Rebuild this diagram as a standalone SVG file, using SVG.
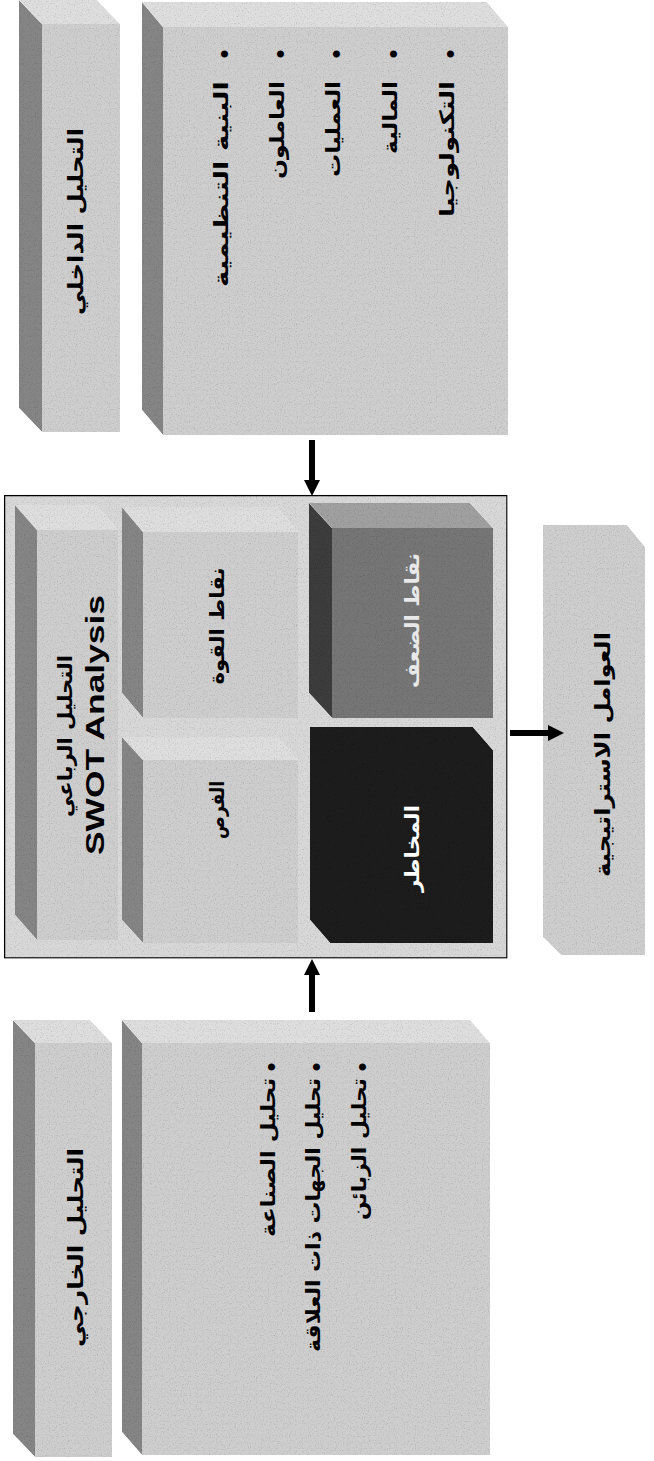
<svg xmlns="http://www.w3.org/2000/svg" width="654" height="1461" viewBox="0 0 654 1461">
<style>
.front{fill:#cecece}
.side{fill:#858585}
.top{fill:#dedede}
.ar{font-family:"DejaVu Sans",sans-serif;font-weight:bold;fill:#000}
.lat{font-family:"Liberation Sans",Arial,sans-serif;font-weight:bold;fill:#000}
.bul{font-family:"Liberation Sans",Arial,sans-serif;font-size:26px;fill:#000}
.conn{stroke:#000;stroke-width:6;fill:none}
</style>
<defs>
<filter id="grain" filterUnits="userSpaceOnUse" x="0" y="0" width="654" height="1461">
<feTurbulence type="fractalNoise" baseFrequency="0.85" numOctaves="2" seed="5" result="n"/>
<feColorMatrix in="n" type="saturate" values="0" result="g"/>
<feComponentTransfer in="g" result="g2">
<feFuncR type="linear" slope="0.9" intercept="0.55"/>
<feFuncG type="linear" slope="0.9" intercept="0.55"/>
<feFuncB type="linear" slope="0.9" intercept="0.55"/>
<feFuncA type="linear" slope="0" intercept="1"/>
</feComponentTransfer>
<feBlend in="SourceGraphic" in2="g2" mode="multiply" result="b"/>
<feComposite in="b" in2="SourceGraphic" operator="in"/>
</filter>
<marker id="ah" viewBox="0 0 16 16" refX="0" refY="8" markerWidth="16" markerHeight="17" markerUnits="userSpaceOnUse" orient="auto">
<path d="M0,0 L16,8 L0,16 z" fill="#000"/>
</marker>
</defs>
<rect width="654" height="1461" fill="#fff"/>

<g id="internal-header">
<g filter="url(#grain)">
<polygon class="side" points="42,24 19,0 19,408 42,432"/>
<polygon class="top" points="42,24 19,0 97,0 120,24"/>
<rect class="front" x="42" y="24" width="78" height="408"/>
</g>
<text class="ar" transform="translate(78,221.5) rotate(-90)" y="4.6" font-size="21" text-anchor="middle" textLength="187" lengthAdjust="spacingAndGlyphs">التحليل الداخلي</text>
</g>

<g id="internal-factors">
<g filter="url(#grain)">
<polygon class="side" points="163,27 142,2 142,410 163,435"/>
<polygon class="top" points="163,27 142,2 487,2 508,27"/>
<rect class="front" x="163" y="27" width="345" height="408"/>
</g>
<text class="bul" transform="translate(224,54) rotate(-90)" y="8.8" text-anchor="middle">•</text>
<text class="bul" transform="translate(280,54) rotate(-90)" y="8.8" text-anchor="middle">•</text>
<text class="bul" transform="translate(336,54) rotate(-90)" y="8.8" text-anchor="middle">•</text>
<text class="bul" transform="translate(393,54) rotate(-90)" y="8.8" text-anchor="middle">•</text>
<text class="bul" transform="translate(450,54) rotate(-90)" y="8.8" text-anchor="middle">•</text>
<text class="ar" transform="translate(224,184) rotate(-90)" y="4.4" font-size="20" text-anchor="middle" textLength="206" lengthAdjust="spacingAndGlyphs">البنية التنظيمية</text>
<text class="ar" transform="translate(280,130) rotate(-90)" y="4.4" font-size="20" text-anchor="middle" textLength="98" lengthAdjust="spacingAndGlyphs">العاملون</text>
<text class="ar" transform="translate(336,129) rotate(-90)" y="4.4" font-size="20" text-anchor="middle" textLength="96" lengthAdjust="spacingAndGlyphs">العمليات</text>
<text class="ar" transform="translate(393,117.5) rotate(-90)" y="4.4" font-size="20" text-anchor="middle" textLength="73" lengthAdjust="spacingAndGlyphs">المالية</text>
<text class="ar" transform="translate(450,149) rotate(-90)" y="4.4" font-size="20" text-anchor="middle" textLength="136" lengthAdjust="spacingAndGlyphs">التكنولوجيا</text>
</g>

<g id="swot-frame">
<rect x="4.5" y="495.5" width="502.5" height="462.5" fill="#d8d8d8" stroke="#000" stroke-width="1.5" filter="url(#grain)"/>
</g>

<g id="swot-title">
<g filter="url(#grain)">
<polygon class="side" points="37,530 15,505 15,915 37,940"/>
<polygon class="top" points="37,530 15,505 96,505 118,530"/>
<rect class="front" x="37" y="530" width="81" height="410"/>
</g>
<text class="ar" transform="translate(68,736) rotate(-90)" y="4.4" font-size="20" text-anchor="middle" textLength="162" lengthAdjust="spacingAndGlyphs">التحليل الرباعي</text>
<text class="lat" transform="translate(97,725) rotate(-90)" y="6.5" font-size="26" text-anchor="middle" textLength="260" lengthAdjust="spacingAndGlyphs">SWOT Analysis</text>
</g>

<g id="strengths">
<g filter="url(#grain)">
<polygon class="side" points="143,532 122,507 122,693 143,718"/>
<polygon class="top" points="143,532 122,507 277,507 298,532"/>
<rect class="front" x="143" y="532" width="155" height="186"/>
</g>
<text class="ar" transform="translate(220,626) rotate(-90)" y="4.4" font-size="20" text-anchor="middle" textLength="117" lengthAdjust="spacingAndGlyphs">نقاط القوة</text>
</g>

<g id="opportunities">
<g filter="url(#grain)">
<polygon class="side" points="143,760 122,737 122,920 143,943"/>
<polygon class="top" points="143,760 122,737 277,737 298,760"/>
<rect class="front" x="143" y="760" width="155" height="183"/>
</g>
<text class="ar" transform="translate(220,810) rotate(-90)" y="4.4" font-size="20" text-anchor="middle" textLength="58" lengthAdjust="spacingAndGlyphs">الفرص</text>
</g>

<g id="weaknesses">
<g filter="url(#grain)">
<polygon points="332,528 309,503 309,693 332,718" fill="#3c3c3c"/>
<polygon points="332,528 309,503 470,503 493,528" fill="#a0a0a0"/>
<rect x="332" y="528" width="161" height="190" fill="#767676"/>
</g>
<text class="ar" transform="translate(415,620.5) rotate(-90)" y="4.4" font-size="20" text-anchor="middle" textLength="135" lengthAdjust="spacingAndGlyphs" style="fill:#e8e8e8">نقاط الضعف</text>
</g>

<g id="threats">
<polygon points="310,727 473,727 493,750 493,943 330,943 310,920" fill="#1c1c1c" filter="url(#grain)"/>
<text class="ar" transform="translate(415,848.5) rotate(-90)" y="4.4" font-size="20" text-anchor="middle" textLength="87" lengthAdjust="spacingAndGlyphs" style="fill:#ffffff">المخاطر</text>
</g>

<g id="strategic-factors">
<polygon class="front" points="543,525 627,525 645,547 645,955 561,955 543,937" filter="url(#grain)"/>
<text class="ar" transform="translate(605,754.5) rotate(-90)" y="4.6" font-size="21" text-anchor="middle" textLength="245" lengthAdjust="spacingAndGlyphs">العوامل الاستراتيجية</text>
</g>

<g id="external-header">
<g filter="url(#grain)">
<polygon class="side" points="35,1043 13,1020 13,1434 35,1457"/>
<polygon class="top" points="35,1043 13,1020 90,1020 112,1043"/>
<rect class="front" x="35" y="1043" width="77" height="414"/>
</g>
<text class="ar" transform="translate(78,1247.5) rotate(-90)" y="4.6" font-size="21" text-anchor="middle" textLength="199" lengthAdjust="spacingAndGlyphs">التحليل الخارجي</text>
</g>

<g id="external-factors">
<g filter="url(#grain)">
<polygon class="side" points="142,1043 122,1020 122,1432 142,1455"/>
<polygon class="top" points="142,1043 122,1020 470,1020 490,1043"/>
<rect class="front" x="142" y="1043" width="348" height="412"/>
</g>
<text class="bul" transform="translate(271,1067) rotate(-90)" y="8.8" text-anchor="middle">•</text>
<text class="bul" transform="translate(316,1067) rotate(-90)" y="8.8" text-anchor="middle">•</text>
<text class="bul" transform="translate(362,1067) rotate(-90)" y="8.8" text-anchor="middle">•</text>
<text class="ar" transform="translate(271,1157.5) rotate(-90)" y="4.4" font-size="20" text-anchor="middle" textLength="159" lengthAdjust="spacingAndGlyphs">تحليل الصناعة</text>
<text class="ar" transform="translate(316,1215) rotate(-90)" y="4.4" font-size="20" text-anchor="middle" textLength="274" lengthAdjust="spacingAndGlyphs">تحليل الجهات ذات العلاقة</text>
<text class="ar" transform="translate(362,1149) rotate(-90)" y="4.4" font-size="20" text-anchor="middle" textLength="142" lengthAdjust="spacingAndGlyphs">تحليل الزبائن</text>
</g>

<g id="connectors">
<line class="conn" x1="312" y1="440" x2="312" y2="480" marker-end="url(#ah)"/>
<line class="conn" x1="312" y1="1012" x2="312" y2="975" marker-end="url(#ah)"/>
<line class="conn" x1="510" y1="733" x2="548" y2="733" marker-end="url(#ah)"/>
</g>
</svg>
